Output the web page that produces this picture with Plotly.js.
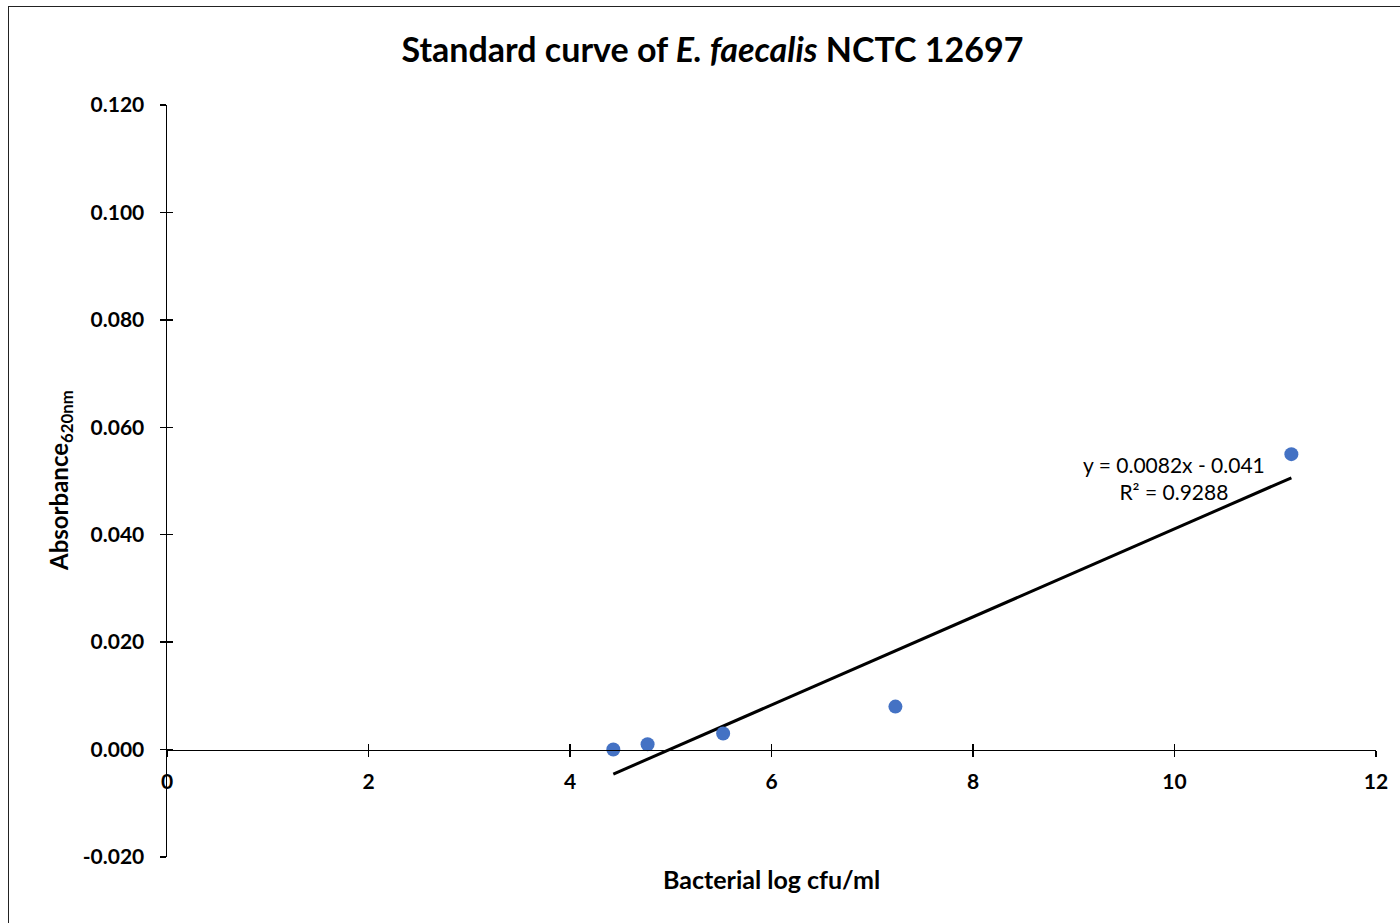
<!DOCTYPE html>
<html>
<head>
<meta charset="utf-8">
<script src="https://cdn.plot.ly/plotly-3.0.1.min.js"></script>
<style>
  html, body { margin:0; padding:0; background:#fff; overflow:hidden; }
  #chart { width:1400px; height:923px; }
  #frame { position:absolute; left:8px; top:6px; width:1420px; height:940px; border:1.5px solid #222; pointer-events:none; box-sizing:border-box; }
</style>
</head>
<body>
<div id="chart"></div>
<div id="frame"></div>
<script>
// Data
const logCfu = [4.43, 4.77, 5.52, 7.23, 11.16];
const absorbance = [0.000, 0.001, 0.003, 0.008, 0.055];
const xTicks = [0, 2, 4, 6, 8, 10, 12];
const yTicks = [-0.02, 0, 0.02, 0.04, 0.06, 0.08, 0.10, 0.12];
const trendLabel = ["y = 0.0082x - 0.041", "R² = 0.9288"];

// Linear least-squares trendline over the data range
const n = logCfu.length;
const mx = logCfu.reduce((a,b)=>a+b,0)/n;
const my = absorbance.reduce((a,b)=>a+b,0)/n;
let sxy = 0, sxx = 0;
for (let i=0;i<n;i++){ sxy += (logCfu[i]-mx)*(absorbance[i]-my); sxx += (logCfu[i]-mx)**2; }
const slope = sxy/sxx, intercept = my - slope*mx;
const xMin = Math.min(...logCfu), xMax = Math.max(...logCfu);
const trendX = [xMin, xMax];
const trendY = trendX.map(x => slope*x + intercept);

const FONT = 'Lato, "Open Sans", sans-serif';
const yPos = (0 - (-0.02)) / (0.12 - (-0.02));

const traces = [
  { x: trendX, y: trendY, mode: 'lines', line: {color:'#000', width:3}, hoverinfo:'skip', showlegend:false },
  { x: logCfu, y: absorbance, mode: 'markers', marker: {color:'#4472C4', size:14}, showlegend:false },
  { x: [null], y: [null], xaxis:'x2', yaxis:'y2', mode:'markers', showlegend:false }
];

const axisCommon = { showgrid:false, zeroline:false };
const layout = {
  width: 1400, height: 923,
  margin: {l:167, r:24, t:105, b:66},
  paper_bgcolor:'#fff', plot_bgcolor:'#fff',
  font: {family: FONT, color:'#000'},
  title: { text: 'Standard curve of <i>E. faecalis</i> NCTC 12697', font:{family:FONT, size:34, color:'#000', weight:'bold'},
           xref:'container', yref:'container', x: 712.5/1400, y: 1 - 50/923, xanchor:'center', yanchor:'middle' },
  xaxis: Object.assign({}, axisCommon, {
    range:[0,12], tickvals: xTicks, ticktext: xTicks.map(String),
    anchor:'free', position: yPos, showline:true, linecolor:'#000', linewidth:1.5,
    ticks:'outside', ticklen:6, tickwidth:1.5, tickcolor:'#000', ticklabelstandoff: 7,
    tickfont:{family:FONT, size:21, color:'#000', weight:'bold'}
  }),
  yaxis: Object.assign({}, axisCommon, {
    range:[-0.02,0.12], tickvals: yTicks, ticktext: yTicks.map(v=>v.toFixed(3)),
    showline:true, linecolor:'#000', linewidth:1.5,
    ticks:'outside', ticklen:6, tickwidth:1.5, tickcolor:'#000', ticklabelstandoff: 11,
    tickfont:{family:FONT, size:21, color:'#000', weight:'bold'}
  }),
  xaxis2: Object.assign({}, axisCommon, {
    range:[0,12], tickvals: xTicks, overlaying:'x', anchor:'free', position: yPos,
    showline:false, ticks:'inside', ticklen:6, tickwidth:1.5, tickcolor:'#000', showticklabels:false
  }),
  yaxis2: Object.assign({}, axisCommon, {
    range:[-0.02,0.12], tickvals: yTicks, overlaying:'y', side:'left', anchor:'x',
    showline:false, ticks:'inside', ticklen:6, tickwidth:1.5, tickcolor:'#000', showticklabels:false
  }),
  annotations: [
    { text: trendLabel[0] + '<br>' + trendLabel[1], xref:'paper', yref:'paper',
      x: (1174-167)/(1376-167), y: (857-478)/752, xanchor:'center', yanchor:'middle', showarrow:false,
      font:{family:FONT, size:21, color:'#000'}, align:'center' },
    { text: 'Bacterial log cfu/ml', xref:'paper', yref:'paper', x:0.5, y:(857-879)/752,
      xanchor:'center', yanchor:'middle', showarrow:false, font:{family:FONT, size:25, color:'#000', weight:'bold'} },
    { text: 'Absorbance<sub>620nm</sub>', xref:'paper', yref:'paper', x:(60-167)/1209, y:0.5, textangle:-90,
      xanchor:'center', yanchor:'middle', showarrow:false, font:{family:FONT, size:24, color:'#000', weight:'bold'} }
  ]
};

Plotly.newPlot('chart', traces, layout, {displayModeBar:false, staticPlot:true});
</script>
</body>
</html>
